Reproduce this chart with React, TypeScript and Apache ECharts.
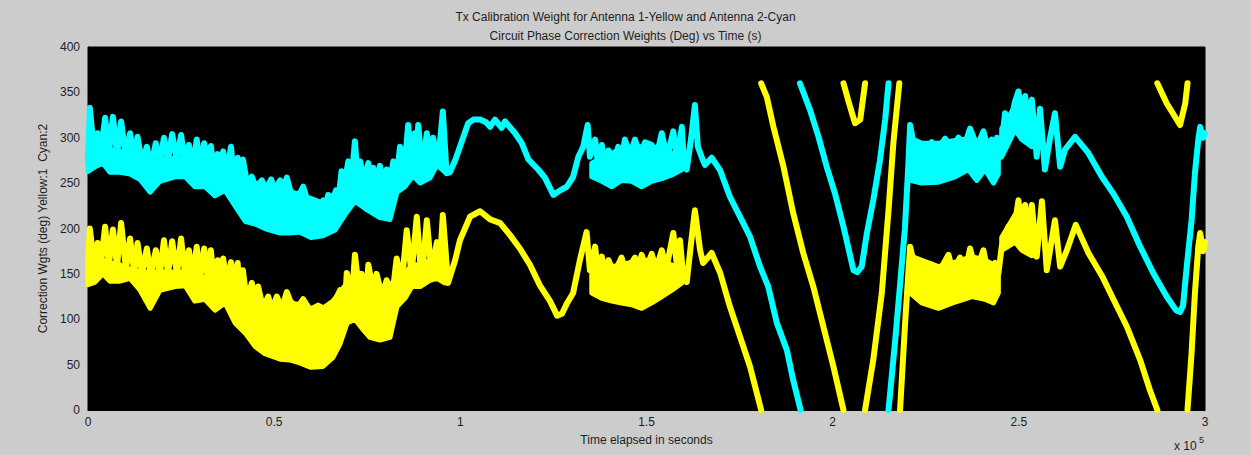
import React, { useEffect, useRef } from "react";
import * as echarts from "echarts";

const CYAN = "#00ffff";
const YELLOW = "#ffff00";
const FONT = "'Liberation Sans', Arial, sans-serif";
const TXT = "#1e1e1e";

const titleLines = [
  "Tx Calibration Weight for Antenna 1-Yellow and Antenna 2-Cyan",
  "Circuit Phase Correction Weights (Deg) vs Time (s)",
];
const xName = "Time elapsed in seconds";
const yName = "Correction Wgts (deg) Yellow:1  Cyan:2";
const xTicks = [0, 50000, 100000, 150000, 200000, 250000, 300000];
const yTicks = [0, 50, 100, 150, 200, 250, 300, 350, 400];

// ---- Antenna 2 (cyan) traces, [time s, deg] ----
const cyanSeg1: number[][] = [
  [0, 275], [500, 333], [1600, 285], [2600, 305], [3500, 285], [4600, 322], [5600, 283], [6700, 323],
  [7800, 282], [8900, 318], [10200, 278], [11300, 305], [12400, 275], [13300, 301], [14500, 272],
  [15800, 290], [16900, 268], [18200, 294], [19300, 272], [20400, 300], [21500, 275], [22600, 304],
  [23900, 275], [25000, 303], [26100, 272], [27100, 292], [28200, 268], [29200, 298], [30100, 268],
  [31200, 294], [32200, 265], [33000, 291], [33800, 262], [34800, 282], [35500, 262], [36300, 285],
  [37300, 260], [38400, 290], [39200, 255], [40200, 278], [40800, 255], [41600, 276], [42700, 250],
  [44000, 257], [45100, 245], [46700, 253], [47800, 243], [49200, 254], [50200, 242], [51600, 253],
  [52400, 242], [53400, 256], [54300, 242], [56100, 232], [57800, 246], [59100, 228], [60200, 222],
  [61200, 230], [62300, 225], [63200, 231], [63900, 224], [64500, 237], [65800, 232], [66600, 242],
  [67400, 238], [68100, 263], [69000, 250], [69900, 274], [70800, 255], [71700, 296], [72400, 255],
  [73100, 274], [74100, 252], [75300, 272], [75900, 250], [76600, 267], [77500, 250], [78400, 269],
  [79200, 250], [80200, 265], [81100, 250], [82000, 274], [82900, 255], [83800, 290], [84900, 262],
  [86000, 314], [86900, 270], [87800, 305], [88200, 280], [88700, 314], [89800, 262], [91000, 305],
  [91900, 268], [92700, 300], [94000, 272], [95300, 329], [96300, 261], [97200, 262], [98600, 275],
  [99900, 290], [102100, 316], [103500, 320], [105300, 320], [106900, 317], [108000, 312],
  [109300, 320], [111100, 311], [112000, 318], [114700, 305], [116500, 294], [118300, 276],
  [120900, 265], [122700, 256], [125000, 237], [126800, 242], [128600, 246], [130300, 257],
  [131700, 279], [133000, 290], [134200, 314], [134800, 279], [136200, 298], [137000, 270],
  [138000, 292], [138900, 268], [139800, 286], [141300, 272], [142400, 290], [143300, 275],
  [144200, 298], [145600, 280], [146900, 298], [148300, 280], [149600, 295], [151400, 292],
  [152600, 278], [154100, 305], [155500, 278], [157200, 307], [158200, 275], [159500, 312],
  [160100, 270], [160800, 265], [162000, 300], [163000, 336], [163800, 290], [164800, 279],
  [165700, 270], [167500, 278], [169800, 264], [172400, 235], [175100, 213], [177800, 191],
  [180500, 158], [182700, 136], [185000, 96], [187700, 66], [189400, 33], [191400, 0],
];
const cyanSeg2: number[][] = [
  [191200, 360], [193900, 331], [196200, 301], [198400, 268], [200600, 239], [202900, 202],
  [205600, 154], [206600, 152], [207800, 158], [209200, 195], [210900, 231], [212700, 275],
  [214100, 320], [215000, 360],
];
const cyanSeg3: number[][] = [
  [215000, 0], [216800, 77], [218100, 138], [219400, 200], [220300, 268], [220800, 314],
  [221900, 290], [223000, 294], [224800, 285], [226600, 295], [228300, 287], [230200, 299],
  [231800, 288], [233800, 300], [235300, 290], [236900, 310], [238800, 290], [240500, 307],
  [241700, 288], [242700, 298], [243400, 285], [244100, 300], [244500, 285], [245000, 279],
  [246300, 327], [247700, 315], [249000, 340], [249900, 351], [250800, 320], [251700, 346],
  [252500, 318], [253500, 342], [254800, 279], [255700, 332], [257000, 265], [258400, 300],
  [259700, 327], [261100, 268], [262400, 287], [265100, 301], [268700, 283], [272300, 257],
  [275300, 239], [279000, 213], [282600, 180], [286100, 151], [289700, 125], [292200, 110],
  [293300, 108], [294100, 115], [295100, 158], [296400, 209], [297300, 261], [298200, 298],
  [298700, 312], [299500, 300], [300000, 305],
];
// solid bands, [time s, low deg, high deg]
const cyanBand1: number[][] = [
  [0, 263, 290], [1900, 268, 292], [4000, 272, 290], [5900, 262, 287], [8600, 262, 285],
  [11300, 260, 280], [14000, 254, 275], [16700, 240, 272], [19300, 252, 275], [23400, 257, 278],
  [26100, 257, 276], [28700, 246, 270], [31400, 246, 270], [34100, 236, 265], [36800, 242, 265],
  [39500, 225, 258], [42200, 208, 252], [44900, 205, 250], [47500, 200, 245], [51600, 195, 243],
  [54300, 195, 240], [56900, 196, 238], [59900, 190, 233], [63100, 192, 228], [66300, 198, 238],
  [69000, 215, 250], [71700, 230, 255], [75200, 220, 252], [78400, 212, 250], [81100, 210, 252],
  [83000, 240, 262], [85100, 246, 268], [87300, 258, 280], [89200, 250, 275], [91900, 256, 280],
  [93700, 270, 290], [95900, 262, 280],
];
const cyanBand2: number[][] = [
  [135300, 257, 272], [138000, 252, 278], [140700, 246, 283], [143300, 253, 288], [146000, 252, 290],
  [148700, 246, 290], [151400, 252, 290], [154100, 255, 288], [156800, 259, 283], [159500, 265, 278],
];
const cyanBand3: number[][] = [
  [220800, 253, 300], [223900, 250, 294], [228400, 251, 294], [232900, 257, 297], [236400, 265, 299],
  [238700, 253, 295], [240900, 265, 293], [243200, 250, 290], [244500, 260, 290],
];
const cyanBand4: number[][] = [
  [245400, 279, 310], [249000, 309, 335], [250800, 298, 335], [253500, 290, 330],
];

// ---- Antenna 1 (yellow) traces, [time s, deg] ----
const yellowSeg1: number[][] = [
  [0, 160], [500, 200], [1600, 162], [2600, 184], [3500, 162], [4600, 202], [5600, 160], [6700, 199],
  [7800, 158], [8900, 206], [10200, 155], [11300, 189], [12400, 152], [13300, 184], [14500, 150],
  [15800, 178], [16900, 148], [18200, 176], [19300, 150], [20400, 187], [21500, 150], [22600, 186],
  [23900, 150], [25000, 189], [26100, 148], [27100, 176], [28200, 145], [29200, 180], [30100, 145],
  [31200, 178], [32200, 143], [33000, 176], [33800, 140], [34800, 165], [35500, 140], [36300, 167],
  [37300, 138], [38400, 163], [39200, 132], [40200, 162], [40800, 125], [41600, 154], [42700, 118],
  [44000, 140], [45100, 115], [45700, 136], [47000, 112], [48400, 125], [49400, 110], [50700, 125],
  [52100, 112], [53400, 130], [54300, 120], [56100, 112], [57800, 122], [59600, 110], [61800, 115],
  [63200, 112], [65000, 108], [67700, 132], [69000, 115], [69500, 151], [70900, 125], [71700, 171],
  [72700, 135], [73500, 150], [74700, 128], [75300, 160], [76600, 130], [77500, 150], [79000, 125],
  [80200, 143], [81700, 125], [82900, 167], [84300, 140], [85600, 198], [86900, 150], [88300, 213],
  [89600, 142], [91000, 209], [92300, 150], [93700, 185], [94500, 160], [95300, 215], [96700, 140],
  [98600, 165], [99900, 187], [102600, 213], [105300, 219], [108000, 210], [110700, 206],
  [113300, 193], [116000, 178], [118700, 160], [121400, 137], [124100, 120], [126000, 104],
  [127300, 106], [128700, 118], [130300, 129], [132100, 165], [133900, 196], [134800, 154],
  [136200, 180], [137000, 150], [138000, 169], [138900, 148], [139800, 165], [141300, 150],
  [143300, 168], [144500, 152], [146900, 168], [147700, 152], [148700, 171], [149900, 155],
  [151400, 172], [152600, 155], [154100, 176], [155300, 155], [157200, 195], [158200, 158],
  [159000, 187], [159800, 150], [160800, 141], [162000, 185], [163000, 220], [164400, 176],
  [165200, 162], [167500, 173], [169800, 151], [172400, 114], [175100, 81], [177800, 48], [180800, 0],
];
const yellowSeg2: number[][] = [
  [180800, 360], [182300, 345], [184100, 312], [186800, 268], [189400, 217], [192100, 173],
  [194800, 136], [197500, 92], [200200, 48], [202900, 0],
];
const yellowSeg3: number[][] = [
  [202900, 360], [204400, 338], [206000, 316], [207400, 320], [208700, 360],
];
const yellowSeg4: number[][] = [
  [208700, 0], [210900, 55], [213200, 129], [215000, 220], [216300, 294], [217900, 360],
];
const yellowSeg5: number[][] = [
  [218100, 0], [219400, 92], [220300, 150], [220800, 180], [221900, 160], [223000, 163],
  [224800, 152], [226600, 160], [228300, 150], [231100, 171], [232300, 152], [234200, 168],
  [235600, 150], [236900, 178], [238500, 152], [240500, 176], [241700, 150], [243600, 162],
  [244500, 150], [245400, 180], [247200, 202], [248200, 185], [249900, 231], [250900, 195],
  [251700, 226], [252500, 190], [253500, 226], [254800, 169], [256200, 230], [257500, 154],
  [259700, 209], [261100, 158], [262900, 176], [265300, 204], [268700, 173], [272300, 148],
  [275400, 122], [279000, 92], [282600, 55], [285200, 22], [287200, 0],
];
const yellowSeg6: number[][] = [
  [287200, 360], [289700, 338], [293300, 314], [294700, 338], [295300, 360],
];
const yellowSeg7: number[][] = [
  [295300, 0], [296400, 63], [297300, 129], [298200, 180], [298700, 195], [299500, 175], [300000, 185],
];
const yellowBand1: number[][] = [
  [0, 138, 165], [1900, 141, 165], [4000, 150, 165], [5900, 142, 162], [8600, 142, 160],
  [11300, 145, 155], [14000, 132, 152], [16700, 112, 152], [19300, 132, 152], [23400, 136, 152],
  [26100, 137, 152], [28700, 120, 148], [31400, 122, 146], [34100, 110, 143], [36800, 118, 143],
  [39500, 96, 135], [42200, 85, 125], [44900, 70, 118], [47500, 62, 115], [51600, 56, 115],
  [54300, 55, 118], [56900, 52, 116], [59900, 47, 112], [63100, 48, 112], [65800, 58, 120],
  [67700, 73, 130], [69600, 96, 140], [71700, 100, 140], [73600, 90, 138], [75700, 80, 135],
  [78400, 77, 135], [81100, 80, 138], [83000, 114, 145], [85100, 123, 150], [87000, 136, 160],
  [89200, 136, 160], [91900, 143, 165], [93700, 145, 170], [95900, 140, 165],
];
const yellowBand2: number[][] = [
  [135300, 129, 158], [138000, 123, 158], [140700, 120, 158], [143300, 118, 160], [146000, 116, 163],
  [148700, 112, 165], [151400, 118, 165], [154100, 125, 163], [156800, 132, 160], [159500, 140, 150],
];
const yellowBand3: number[][] = [
  [220800, 129, 170], [223900, 118, 165], [228400, 112, 158], [232900, 119, 163], [237400, 125, 169],
  [240900, 122, 165], [243200, 118, 160], [244500, 129, 160],
];
const yellowBand4: number[][] = [
  [245400, 176, 190], [249000, 185, 215], [250800, 176, 215], [253500, 170, 215],
];

function lineSeries(data: number[][], color: string) {
  return {
    type: "line",
    data,
    symbol: "none",
    showSymbol: false,
    silent: true,
    z: 3,
    lineStyle: { color, width: 6, cap: "round", join: "round" },
    itemStyle: { color },
  };
}

function bandSeries(band: number[][], color: string) {
  return {
    type: "custom",
    silent: true,
    z: 2,
    data: [[band[0][0], band[0][1]]],
    renderItem: (_params: any, api: any) => {
      const top = band.map((p) => api.coord([p[0], p[2]]));
      const bot = band
        .slice()
        .reverse()
        .map((p) => api.coord([p[0], p[1]]));
      return {
        type: "polygon",
        shape: { points: top.concat(bot) },
        style: { fill: color, stroke: color, lineWidth: 5, lineJoin: "round" },
      };
    },
  };
}

export default function App() {
  const ref = useRef<HTMLDivElement>(null);

  useEffect(() => {
    document.body.style.margin = "0";
    if (!ref.current) return;
    const chart = echarts.init(ref.current, undefined, { renderer: "svg" });
    const series: any[] = [
      bandSeries(yellowBand1, YELLOW),
      bandSeries(yellowBand2, YELLOW),
      bandSeries(yellowBand3, YELLOW),
      bandSeries(yellowBand4, YELLOW),
      bandSeries(cyanBand1, CYAN),
      bandSeries(cyanBand2, CYAN),
      bandSeries(cyanBand3, CYAN),
      bandSeries(cyanBand4, CYAN),
      ...[yellowSeg1, yellowSeg2, yellowSeg3, yellowSeg4, yellowSeg5, yellowSeg6, yellowSeg7].map((s) =>
        lineSeries(s, YELLOW)
      ),
      ...[cyanSeg1, cyanSeg2, cyanSeg3].map((s) => lineSeries(s, CYAN)),
    ];
    chart.setOption({
      animation: false,
      backgroundColor: "#cccccc",
      textStyle: { fontFamily: FONT },
      title: {
        text: titleLines.join("\n"),
        left: "center",
        top: 2,
        textStyle: { color: TXT, fontSize: 12, fontWeight: "normal", lineHeight: 19, fontFamily: FONT },
      },
      grid: {
        left: 88,
        right: 46,
        top: 47,
        bottom: 45,
        show: true,
        backgroundColor: "#000000",
        borderColor: "#000000",
        borderWidth: 1,
      },
      xAxis: {
        type: "value",
        min: xTicks[0],
        max: xTicks[xTicks.length - 1],
        interval: xTicks[1] - xTicks[0],
        name: xName,
        nameLocation: "middle",
        nameGap: 24,
        nameTextStyle: { color: TXT, fontSize: 12, fontFamily: FONT },
        axisLine: { show: true, lineStyle: { color: "#000" } },
        axisTick: { show: false },
        splitLine: { show: false },
        axisLabel: {
          color: TXT,
          fontSize: 12,
          margin: 6,
          fontFamily: FONT,
          formatter: (v: number) => String(v / 100000),
        },
      },
      yAxis: {
        type: "value",
        min: yTicks[0],
        max: yTicks[yTicks.length - 1],
        interval: yTicks[1] - yTicks[0],
        name: yName,
        nameLocation: "middle",
        nameRotate: 90,
        nameGap: 32,
        nameTextStyle: { color: TXT, fontSize: 12, fontFamily: FONT },
        axisLine: { show: true, lineStyle: { color: "#000" } },
        axisTick: { show: false },
        splitLine: { show: false },
        axisLabel: { color: TXT, fontSize: 12, margin: 8, fontFamily: FONT },
      },
      graphic: [
        {
          type: "text",
          left: 1174,
          top: 440,
          style: { text: "x 10", fill: TXT, font: `12px ${FONT}` },
        },
        {
          type: "text",
          left: 1199,
          top: 435,
          style: { text: "5", fill: TXT, font: `9px ${FONT}` },
        },
      ],
      series,
    });
    return () => chart.dispose();
  }, []);

  return (
    <div
      ref={ref}
      style={{ position: "absolute", left: 0, top: 0, width: 1251, height: 455, background: "#cccccc" }}
    />
  );
}
